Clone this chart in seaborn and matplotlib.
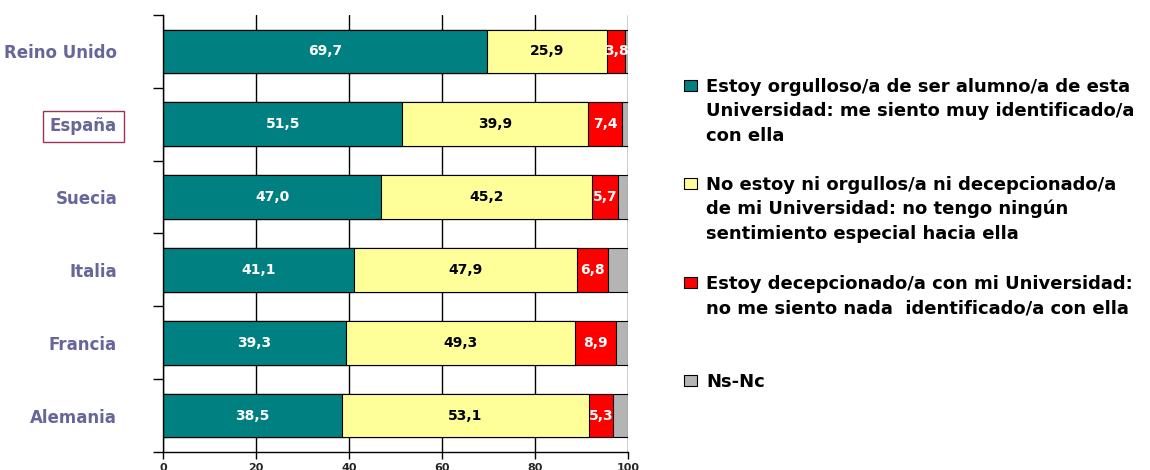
import numpy as np
import pandas as pd
import matplotlib
matplotlib.use("Agg")
import matplotlib.pyplot as plt
from matplotlib.patches import Rectangle
from matplotlib.ticker import FixedLocator
import seaborn as sns

paises = ["Reino Unido", "España", "Suecia", "Italia", "Francia", "Alemania"]
orgulloso = [69.7, 51.5, 47.0, 41.1, 39.3, 38.5]
neutral = [25.9, 39.9, 45.2, 47.9, 49.3, 53.1]
decepcionado = [3.8, 7.4, 5.7, 6.8, 8.9, 5.3]
ns_nc = [0.6, 1.2, 2.1, 4.2, 2.5, 3.1]

etiquetas = [
    "Estoy orgulloso/a de ser alumno/a de esta\nUniversidad: me siento muy identificado/a\ncon ella",
    "No estoy ni orgullos/a ni decepcionado/a\nde mi Universidad: no tengo ningún\nsentimiento especial hacia ella",
    "Estoy decepcionado/a con mi Universidad:\nno me siento nada  identificado/a con ella",
    "Ns-Nc",
]
colores = ["#008080", "#FFFF99", "#FF0000", "#B4B4B4"]
color_texto = ["white", "black", "white", None]

sns.set_style("white")
plt.rcParams["font.family"] = ["DejaVu Sans"]

df = pd.DataFrame({"pais": paises, "a": orgulloso, "b": neutral,
                   "c": decepcionado, "d": ns_nc})
series = ["a", "b", "c", "d"]
acum = df[series].cumsum(axis=1)

fig = plt.figure(figsize=(11.5, 4.7), dpi=100)
ax = fig.add_axes([0.1417, 0.0383, 0.4043, 0.9298])

# barras apiladas: se dibuja el total y encima cada acumulado menor
for s, col in reversed(list(zip(series, colores))):
    sns.barplot(x=acum[s], y=df["pais"], color=col, orient="h", width=0.6,
                edgecolor="black", linewidth=0.8, saturation=1, ax=ax, zorder=2)

# valores en el centro de cada tramo
for s, tc in zip(series, color_texto):
    if tc is None:
        continue
    for i in range(len(df)):
        v = df[s][i]
        centro = acum[s][i] - v / 2
        ax.text(centro, i, f"{v:.1f}".replace(".", ","), ha="center", va="center",
                color=tc, fontsize=10, fontweight="bold", zorder=5, clip_on=True)

ax.set_xlim(0, 100)
ax.set_ylim(5.5, -0.5)
ax.set_xlabel("")
ax.set_ylabel("")
ax.set_xticks([0, 20, 40, 60, 80, 100])
ax.xaxis.grid(True, color="black", linewidth=1)
ax.set_axisbelow(True)
for sp in ["top", "right"]:
    ax.spines[sp].set_visible(False)
for sp in ["left", "bottom"]:
    ax.spines[sp].set_color("black")
    ax.spines[sp].set_linewidth(1)

ax.tick_params(axis="x", direction="out", length=5, width=1, color="black",
               labelsize=8, pad=3, bottom=True)
for t in ax.get_xticklabels():
    t.set_fontweight("bold")
ax.yaxis.set_minor_locator(FixedLocator(np.arange(-0.5, 6, 1)))
ax.tick_params(axis="y", which="major", length=0, pad=33, labelsize=12,
               labelcolor="#666699")
ax.tick_params(axis="y", which="minor", direction="out", length=7, width=1,
               color="black", left=True)
for t in ax.get_yticklabels():
    t.set_fontweight("bold")
    if t.get_text() == "España":
        t.set_bbox(dict(boxstyle="square,pad=0.4", fc="none", ec="#993355", lw=1))

# leyenda (líneas base medidas en píxeles)
bases = [92, 190, 289, 387]
for lab, col, yb in zip(etiquetas, colores, bases):
    fig.patches.append(Rectangle((684 / 1150, 1 - (yb - 1) / 470), 13 / 1150, 11 / 470,
                                 transform=fig.transFigure, facecolor=col,
                                 edgecolor="black", linewidth=0.8))
    for k, linea in enumerate(lab.split("\n")):
        fig.text(706 / 1150, 1 - (yb + 24.5 * k) / 470, linea, ha="left",
                 va="baseline", fontsize=13, fontweight="bold", color="black")

fig.savefig("out.png", dpi=100)
